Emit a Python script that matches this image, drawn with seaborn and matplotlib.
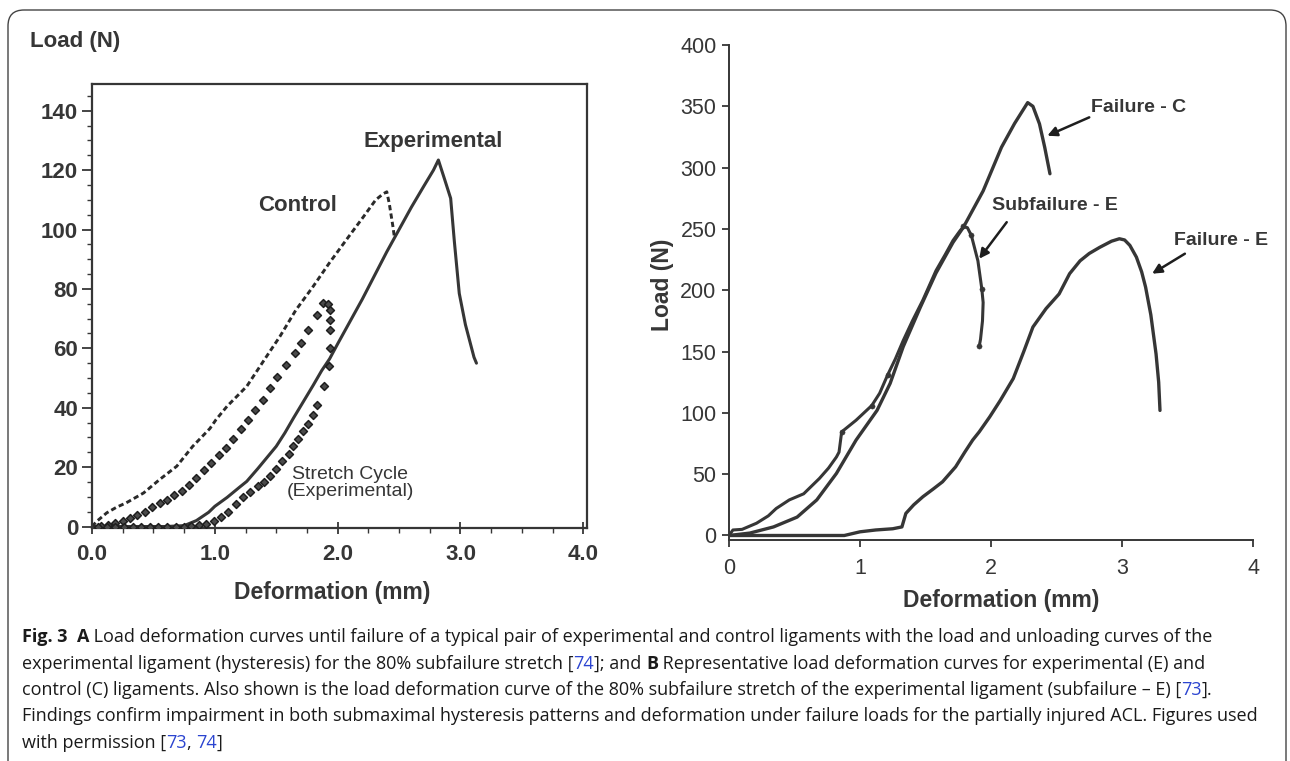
import matplotlib
matplotlib.use("Agg")
import numpy as np
import pandas as pd
import seaborn as sns
import matplotlib.pyplot as plt
from matplotlib.ticker import MultipleLocator
from matplotlib.patches import FancyBboxPatch
from matplotlib.transforms import IdentityTransform
from matplotlib.font_manager import FontProperties

# ---- panel A: load vs deformation, experimental / control / stretch cycle
exp_x = [0.0, 0.3, 0.6, 0.75, 0.85, 0.95, 1.0, 1.1, 1.2, 1.26, 1.35, 1.42, 1.5, 1.57, 1.64,
         1.72, 1.8, 1.87, 1.935, 2.0, 2.1, 2.2, 2.3, 2.4, 2.5, 2.6, 2.7, 2.78, 2.82,
         2.87, 2.92, 2.95, 2.99, 3.04, 3.11, 3.13]
exp_y = [0, 0, 0, 0.3, 2, 4.8, 6.8, 9.8, 13.2, 15.2, 19.5, 23, 27, 31.5, 36.5,
         42, 47.5, 52.5, 56.5, 61.5, 69, 76.5, 84.5, 92.5, 100, 107.5, 114.5, 120, 123.4,
         117, 110.5, 96, 78.5, 68, 57, 55]

ctrl_x = [0.0, 0.04, 0.12, 0.2, 0.28, 0.42, 0.55, 0.69, 0.82, 0.96, 1.01, 1.1, 1.26, 1.42,
          1.53, 1.66, 1.8, 1.93, 2.07, 2.21, 2.31, 2.37, 2.4, 2.42, 2.45, 2.46]
ctrl_y = [0, 1.8, 4.6, 6.5, 8, 11.3, 15.8, 20.3, 27, 33, 36, 40.5, 47.2, 57.2,
          64, 72.9, 80.8, 88.6, 96.5, 104.3, 110, 112, 112.7, 108.8, 101, 98]

load_x = [0.07, 0.13, 0.19, 0.25, 0.31, 0.37, 0.43, 0.49, 0.55, 0.61, 0.67, 0.73, 0.79, 0.85,
          0.91, 0.97, 1.03, 1.09, 1.15, 1.21, 1.27, 1.33, 1.39, 1.45, 1.51, 1.58, 1.65,
          1.7, 1.76, 1.83, 1.88]
load_y = [0.2, 0.6, 1.2, 2, 3, 4, 5, 6.5, 8, 9, 10.5, 12, 14, 16.5,
          19, 21.5, 24, 26.5, 29.5, 33, 36, 39.3, 42.7, 46.6, 50.5, 54.5, 58.4,
          61.7, 66.2, 71.3, 75.2]

unload_x = [1.92, 1.935, 1.935, 1.935, 1.935, 1.93, 1.89, 1.83, 1.8, 1.76, 1.72, 1.68, 1.64,
            1.6, 1.55, 1.5, 1.45, 1.4, 1.35, 1.29, 1.23, 1.17, 1.11, 1.05, 0.99, 0.93,
            0.87, 0.81, 0.75, 0.68, 0.61, 0.54, 0.47, 0.4, 0.33, 0.26, 0.19, 0.12, 0.05]
unload_y = [75, 73, 69.5, 66.2, 60, 53.9, 47.2, 41, 37.6, 34.5, 32, 29.5, 27,
            24.5, 22, 19.5, 17, 15, 13.5, 11.5, 9.8, 7.5, 5, 3.3, 2, 1,
            0.4, 0.1, 0, 0, 0, 0, 0, 0, 0, 0, 0, 0, 0]

# ---- panel B: failure C, subfailure E, failure E
fc_x = [0.0, 0.16, 0.34, 0.52, 0.67, 0.82, 0.97, 1.13, 1.23, 1.33, 1.46, 1.58, 1.71, 1.79,
        1.94, 2.08, 2.18, 2.28, 2.32, 2.37, 2.41, 2.45]
fc_y = [0, 2, 7, 15, 29, 50.6, 77.8, 102, 124, 154, 186, 214, 239, 251.5,
        281, 316.6, 336, 353, 350, 335.7, 316.6, 295]

sub_x = [0.0, 0.03, 0.1, 0.21, 0.3, 0.36, 0.46, 0.57, 0.69, 0.76, 0.82, 0.84, 0.86, 0.97,
         1.09, 1.15, 1.21, 1.27, 1.33, 1.4, 1.48, 1.58, 1.65, 1.71, 1.76, 1.79, 1.82,
         1.85, 1.9, 1.93, 1.94, 1.935, 1.92, 1.91]
sub_y = [0, 4.5, 5, 10, 16, 22, 29, 34, 46.5, 55, 64, 68, 84.5, 94,
         106, 116, 130.7, 144, 159, 175, 192, 216, 229, 240.6, 248, 252, 251,
         244.7, 224, 201, 190, 175, 160, 154.3]
sub_marks = [12, 14, 16, 25, 27, 29, 33]

fe_x = [0.0, 0.5, 0.88, 1.0, 1.12, 1.25, 1.32, 1.35, 1.41, 1.48, 1.56, 1.63, 1.73, 1.8,
        1.86, 1.91, 1.99, 2.07, 2.17, 2.25, 2.32, 2.42, 2.52, 2.6, 2.68, 2.75, 2.83,
        2.92, 2.98, 3.02, 3.06, 3.11, 3.15, 3.18, 3.22, 3.26, 3.28, 3.29]
fe_y = [0, 0, 0, 3, 4.5, 5.5, 7, 18, 25, 31.6, 38, 43.8, 56, 68,
        77.8, 84.5, 96.7, 110, 128, 150, 170, 185, 197, 213.5, 224, 230, 235,
        240, 242, 241, 236.6, 227, 215, 202.6, 180, 148, 125, 102]

cap_lines = [
    [("Fig. 3", "bold", "#1a1a1a"), ("  ", "normal", "#1a1a1a"), ("A", "bold", "#1a1a1a"),
     (" Load deformation curves until failure of a typical pair of experimental and control "
      "ligaments with the load and unloading curves of the", "normal", "#1a1a1a")],
    [("experimental ligament (hysteresis) for the 80% subfailure stretch [", "normal", "#1a1a1a"),
     ("74", "normal", "#2b44d0"), ("]; and ", "normal", "#1a1a1a"), ("B", "bold", "#1a1a1a"),
     (" Representative load deformation curves for experimental (E) and", "normal", "#1a1a1a")],
    [("control (C) ligaments. Also shown is the load deformation curve of the 80% subfailure "
      "stretch of the experimental ligament (subfailure \u2013 E) [", "normal", "#1a1a1a"),
     ("73", "normal", "#2b44d0"), ("].", "normal", "#1a1a1a")],
    [("Findings confirm impairment in both submaximal hysteresis patterns and deformation under "
      "failure loads for the partially injured ACL. Figures used", "normal", "#1a1a1a")],
    [("with permission [", "normal", "#1a1a1a"), ("73", "normal", "#2b44d0"),
     (", ", "normal", "#1a1a1a"), ("74", "normal", "#2b44d0"), ("]", "normal", "#1a1a1a")],
]

sns.set_theme(style="ticks")
plt.rcParams["font.family"] = ["Liberation Sans", "DejaVu Sans"]
ink = "#363636"

W, H = 1290, 761
fig = plt.figure(figsize=(W / 100, H / 100), dpi=100)

# ---------------- panel A
ax1 = fig.add_axes([92 / W, 1 - 528 / H, 495 / W, 444 / H])
sns.lineplot(x=exp_x, y=exp_y, ax=ax1, sort=False, color=ink, linewidth=2.2)
sns.lineplot(x=ctrl_x, y=ctrl_y, ax=ax1, sort=False, color="#2a2a2a", linewidth=2.1)
ax1.lines[-1].set_dashes((1.8, 1.1))
sns.scatterplot(x=load_x, y=load_y, ax=ax1, marker="D", s=16, color="#4a4a4a",
                edgecolor="#1e1e1e", linewidth=1.1, zorder=3)
sns.scatterplot(x=unload_x, y=unload_y, ax=ax1, marker="D", s=16, color="#4a4a4a",
                edgecolor="#1e1e1e", linewidth=1.1, zorder=3)
ax1.set_xlim(0, 4.03)
ax1.set_ylim(-0.5, 149)
ax1.set_xticks([0, 1, 2, 3, 4])
ax1.set_xticklabels(["0.0", "1.0", "2.0", "3.0", "4.0"])
ax1.set_yticks(range(0, 141, 20))
ax1.xaxis.set_minor_locator(MultipleLocator(0.25))
ax1.yaxis.set_minor_locator(MultipleLocator(5))
ax1.tick_params(axis="y", which="major", direction="out", length=7, width=1.3, pad=3,
                labelsize=16, colors=ink)
ax1.tick_params(axis="y", which="minor", direction="out", length=3.5, width=1.0, colors=ink)
ax1.tick_params(axis="x", which="major", direction="inout", length=9, width=1.3, pad=7,
                labelsize=16, colors=ink)
ax1.tick_params(axis="x", which="minor", direction="out", length=3.5, width=1.0, colors=ink)
for lab in ax1.get_xticklabels() + ax1.get_yticklabels():
    lab.set_fontweight("bold")
for sp in ax1.spines.values():
    sp.set_visible(True)
    sp.set_color(ink)
    sp.set_linewidth(1.6)
ax1.set_xlabel("")
ax1.set_ylabel("")
ax1.text(1.675, 108.2, "Control", fontsize=16, fontweight="bold", color=ink,
         ha="center", va="center")
ax1.text(2.775, 129.5, "Experimental", fontsize=16, fontweight="bold", color=ink,
         ha="center", va="center")
ax1.text(2.10, 14.8, "Stretch Cycle\n(Experimental)", fontsize=14, color=ink,
         ha="center", va="center", linespacing=1.0)
fig.text(30 / W, 1 - 42 / H, "Load (N)", fontsize=16, fontweight="bold", color=ink,
         ha="left", va="center")
fig.text(332 / W, 1 - 592 / H, "Deformation (mm)", fontsize=16.5, fontweight="bold",
         color=ink, ha="center", va="center")

# ---------------- panel B
ax2 = fig.add_axes([729 / W, 1 - 540.4 / H, 524 / W, 495.4 / H])
sns.lineplot(x=fc_x, y=fc_y, ax=ax2, sort=False, color=ink, linewidth=2.4)
sns.lineplot(x=sub_x, y=sub_y, ax=ax2, sort=False, color=ink, linewidth=2.2)
sns.scatterplot(x=[sub_x[i] for i in sub_marks], y=[sub_y[i] for i in sub_marks], ax=ax2,
                s=14, color=ink, edgecolor=ink, zorder=3)
sns.lineplot(x=fe_x, y=fe_y, ax=ax2, sort=False, color=ink, linewidth=2.4)
ax2.set_xlim(0, 4)
ax2.set_ylim(-4, 400)
ax2.set_xticks([0, 1, 2, 3, 4])
ax2.set_yticks(range(0, 401, 50))
sns.despine(ax=ax2)
for sp in ("left", "bottom"):
    ax2.spines[sp].set_color(ink)
    ax2.spines[sp].set_linewidth(1.4)
ax2.tick_params(axis="both", direction="out", length=5, width=1.3, labelsize=15.5,
                colors=ink)
ax2.tick_params(axis="x", pad=8)
ax2.tick_params(axis="y", pad=4)
ax2.set_xlabel("")
ax2.set_ylabel("")
arrow = dict(arrowstyle="-|>", color="#1e1e1e", lw=1.8, mutation_scale=14,
             shrinkA=0, shrinkB=0)
ax2.annotate("", xy=(2.43, 326), xytext=(2.75, 341), arrowprops=arrow)
ax2.annotate("", xy=(1.91, 225.7), xytext=(2.12, 255.5), arrowprops=arrow)
ax2.annotate("", xy=(3.23, 213.5), xytext=(3.48, 229.8), arrowprops=arrow)
ax2.text(2.76, 349, "Failure - C", fontsize=14, fontweight="bold", color=ink,
         ha="left", va="center")
ax2.text(2.01, 269, "Subfailure - E", fontsize=14, fontweight="bold", color=ink,
         ha="left", va="center")
ax2.text(3.40, 240.6, "Failure - E", fontsize=14, fontweight="bold", color=ink,
         ha="left", va="center")
fig.text(662 / W, 1 - 285 / H, "Load (N)", fontsize=16.5, fontweight="bold", color=ink,
         ha="center", va="center", rotation=90)
fig.text(1001 / W, 1 - 600 / H, "Deformation (mm)", fontsize=16.5, fontweight="bold",
         color=ink, ha="center", va="center")

# ---------------- frame and caption
frame = FancyBboxPatch((8, -40), 1278, H - 10 + 40, boxstyle="round,pad=0,rounding_size=16",
                       transform=IdentityTransform(), facecolor="none", edgecolor="#444444",
                       linewidth=1.0, zorder=0)
fig.patches.append(frame)

cap_family = ["Open Sans", "DejaVu Sans"]
renderer = fig.canvas.get_renderer()


def seg_width(text, weight, size):
    fp = FontProperties(family=cap_family, weight=weight, size=size)
    w1 = renderer.get_text_width_height_descent("|" + text + "|", fp, ismath=False)[0]
    w0 = renderer.get_text_width_height_descent("||", fp, ismath=False)[0]
    return w1 - w0


# fit the widest caption line into the frame width
base = 12
widest = max(sum(seg_width(t, w, base) for t, w, c in segs) for segs in cap_lines)
cap_size = base * 1236 / widest

cap_y = [637, 664, 690, 716, 743]
for segs, y in zip(cap_lines, cap_y):
    x = 22
    for text, weight, color in segs:
        fig.text(x / W, 1 - y / H, text, fontsize=cap_size, fontweight=weight, color=color,
                 family=cap_family, ha="left", va="center")
        x += seg_width(text, weight, cap_size)

fig.savefig("out.png", dpi=100)
